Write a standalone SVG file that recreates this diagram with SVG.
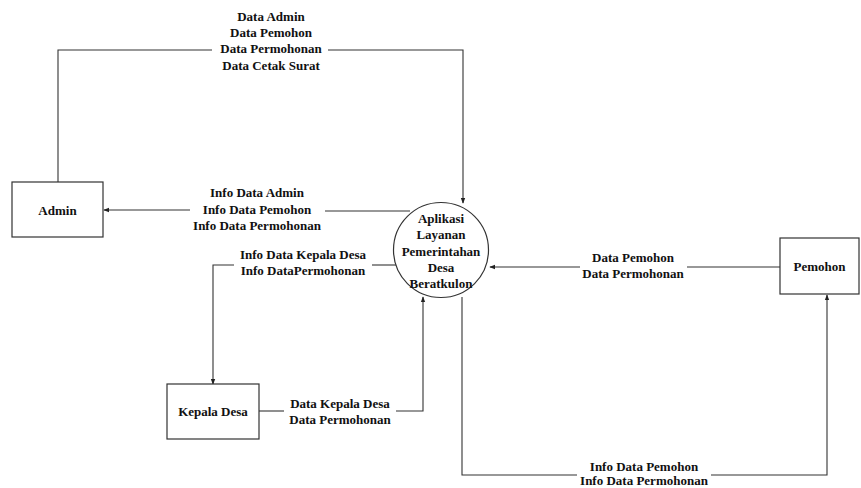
<svg xmlns="http://www.w3.org/2000/svg" width="861" height="488" viewBox="0 0 861 488">
  <style>
    .box { fill: #fff; stroke: #333; stroke-width: 1.2; }
    .flow { fill: none; stroke: #333; stroke-width: 1.1; }
    text { font-family: 'Liberation Serif', 'Times New Roman', Times, serif; font-weight: bold; font-size: 13px; fill: #111; text-anchor: middle; }
  </style>
  <defs>
    <marker id="arrow" viewBox="0 0 8 8" refX="7" refY="4" markerWidth="6" markerHeight="6" orient="auto" markerUnits="userSpaceOnUse">
      <path d="M0,1 L8,4 L0,7 z" fill="#222"/>
    </marker>
  </defs>

  <rect width="861" height="488" fill="#fff"/>

  <!-- data flows -->
  <g id="connectors">
    <!-- Admin -> process -->
    <path class="flow" d="M58,182 V50 H463 V203" marker-end="url(#arrow)"/>
    <!-- process -> Admin -->
    <path class="flow" d="M410,211 H325"/>
    <path class="flow" d="M190,210 H104" marker-end="url(#arrow)"/>
    <!-- process -> Kepala Desa -->
    <path class="flow" d="M396,265 H372"/>
    <path class="flow" d="M234,265 H213 V384" marker-end="url(#arrow)"/>
    <!-- Kepala Desa -> process -->
    <path class="flow" d="M259,411 H284"/>
    <path class="flow" d="M396,411 H423 V297" marker-end="url(#arrow)"/>
    <!-- Pemohon -> process -->
    <path class="flow" d="M780,267 H687"/>
    <path class="flow" d="M580,267 H490" marker-end="url(#arrow)"/>
    <!-- process -> Pemohon -->
    <path class="flow" d="M462,297 V475 H577"/>
    <path class="flow" d="M711,475 H827 V295" marker-end="url(#arrow)"/>
  </g>

  <!-- flow labels -->
  <g id="labels">
    <rect x="212" y="40" width="116" height="16" fill="#fff"/>
    <text x="271" y="21">Data Admin</text>
    <text x="271" y="37">Data Pemohon</text>
    <text x="271" y="53">Data Permohonan</text>
    <text x="271" y="70">Data Cetak Surat</text>

    <text x="257" y="197">Info Data Admin</text>
    <text x="257" y="214">Info Data Pemohon</text>
    <text x="257" y="230">Info Data Permohonan</text>

    <text x="303" y="259">Info Data Kepala Desa</text>
    <text x="303" y="275">Info DataPermohonan</text>

    <text x="340" y="408">Data Kepala Desa</text>
    <text x="340" y="424">Data Permohonan</text>

    <text x="633" y="262">Data Pemohon</text>
    <text x="633" y="278">Data Permohonan</text>

    <text x="644" y="471">Info Data Pemohon</text>
    <text x="644" y="485">Info Data Permohonan</text>
  </g>

  <!-- process -->
  <g id="process">
    <circle cx="441" cy="250" r="47.5" fill="#fff" stroke="#333" stroke-width="1.2"/>
    <text x="441" y="223">Aplikasi</text>
    <text x="441" y="239">Layanan</text>
    <text x="441" y="256">Pemerintahan</text>
    <text x="441" y="272">Desa</text>
    <text x="441" y="288">Beratkulon</text>
  </g>

  <!-- external entities -->
  <g id="admin">
    <rect class="box" x="12" y="182" width="91" height="55"/>
    <text x="57.5" y="215">Admin</text>
  </g>
  <g id="kepala-desa">
    <rect class="box" x="167" y="384" width="92" height="55"/>
    <text x="213" y="416">Kepala Desa</text>
  </g>
  <g id="pemohon">
    <rect class="box" x="780" y="238" width="79" height="56"/>
    <text x="819.5" y="271">Pemohon</text>
  </g>
</svg>
